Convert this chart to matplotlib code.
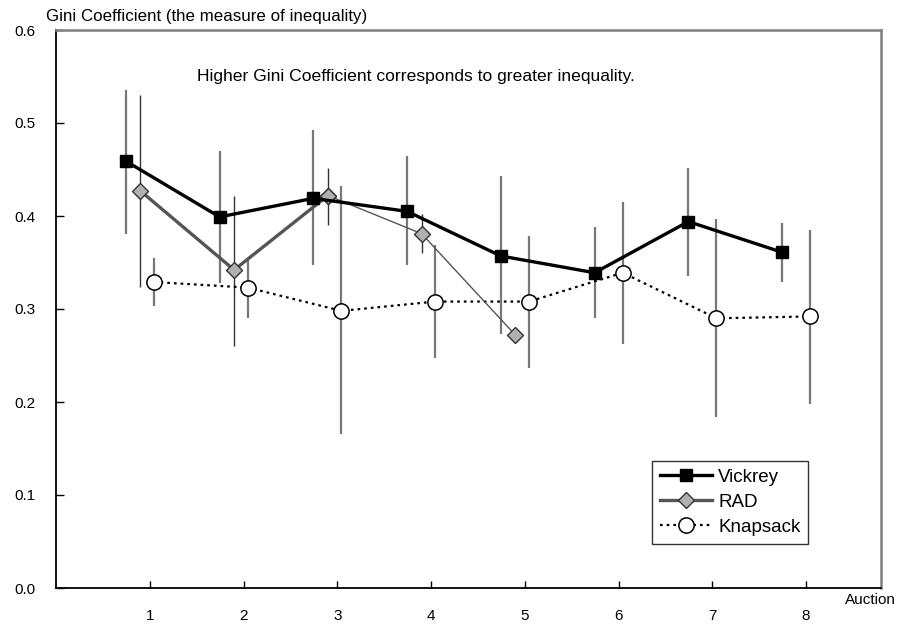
import numpy as np
import matplotlib
matplotlib.use("Agg")
import matplotlib.pyplot as plt
from matplotlib.ticker import FormatStrFormatter

plt.rcParams['font.family'] = ['Liberation Sans', 'DejaVu Sans']

# Auction rounds
auctions = [1, 2, 3, 4, 5, 6, 7, 8]

# Gini coefficient means and error-bar extents per mechanism
vickrey_mean = [0.459, 0.399, 0.419, 0.405, 0.357, 0.339, 0.394, 0.361]
vickrey_low = [0.381, 0.328, 0.347, 0.347, 0.273, 0.290, 0.335, 0.329]
vickrey_high = [0.536, 0.470, 0.492, 0.464, 0.443, 0.388, 0.452, 0.393]

rad_auctions = [1, 2, 3, 4, 5]
rad_mean = [0.427, 0.342, 0.422, 0.381, 0.272]
rad_low = [0.324, 0.260, 0.390, 0.360, 0.272]
rad_high = [0.530, 0.422, 0.452, 0.402, 0.272]

knap_mean = [0.329, 0.323, 0.298, 0.308, 0.308, 0.339, 0.290, 0.292]
knap_low = [0.303, 0.290, 0.166, 0.247, 0.237, 0.262, 0.184, 0.198]
knap_high = [0.355, 0.353, 0.432, 0.369, 0.378, 0.415, 0.397, 0.385]

y_ticks = [0.0, 0.1, 0.2, 0.3, 0.4, 0.5, 0.6]

# horizontal shifts so the three series sit side by side within a round
shift_v, shift_r, shift_k = -0.255, -0.10, 0.045

fig = plt.figure(figsize=(8.97, 6.24), dpi=100)
ax = fig.add_axes([56 / 897, 1 - 588 / 624, (881 - 56) / 897, (588 - 30) / 624])

xv = np.array(auctions) + shift_v
xr = np.array(rad_auctions) + shift_r
xk = np.array(auctions) + shift_k

def yerr(mean, low, high):
    m = np.array(mean)
    return [m - np.array(low), np.array(high) - m]

bar_gray = '#777777'
ax.errorbar(xv, vickrey_mean, yerr=yerr(vickrey_mean, vickrey_low, vickrey_high),
            fmt='none', ecolor=bar_gray, elinewidth=1.6, capsize=0, zorder=1)
ax.errorbar(xk, knap_mean, yerr=yerr(knap_mean, knap_low, knap_high),
            fmt='none', ecolor=bar_gray, elinewidth=1.6, capsize=0, zorder=1)
ax.errorbar(xr, rad_mean, yerr=yerr(rad_mean, rad_low, rad_high),
            fmt='none', ecolor='#333333', elinewidth=1.0, capsize=0, zorder=1)

# Knapsack: dotted line, open circles
ax.plot(xk, knap_mean, linestyle=(0, (1.2, 1.8)), color='black', linewidth=1.6,
        marker='o', markersize=11, markerfacecolor='white', markeredgecolor='black',
        markeredgewidth=1.1, label='Knapsack', zorder=3)

# RAD: heavier segment over the first rounds, lighter afterwards
rad_color = '#555555'
ax.plot(xr[2:], rad_mean[2:], color=rad_color, linewidth=1.0,
        marker='D', markersize=8, markerfacecolor='#b0b0b0',
        markeredgecolor='#333333', markeredgewidth=1.0, zorder=4)
ax.plot(xr[:3], rad_mean[:3], color=rad_color, linewidth=2.4,
        marker='D', markersize=8, markerfacecolor='#b0b0b0',
        markeredgecolor='#333333', markeredgewidth=1.0, label='RAD', zorder=4)

# Vickrey: solid black line, filled squares
ax.plot(xv, vickrey_mean, color='black', linewidth=2.4, marker='s', markersize=9,
        markerfacecolor='black', markeredgecolor='black', label='Vickrey', zorder=5)

ax.set_xlim(0, 8.8)
ax.set_ylim(0, 0.6)
ax.set_xticks(auctions)
ax.set_yticks(y_ticks)
ax.yaxis.set_major_formatter(FormatStrFormatter('%.1f'))

ax.tick_params(axis='x', direction='in', length=5, width=1, pad=15,
               labelsize=11, bottom=True, top=False)
ax.tick_params(axis='y', direction='in', length=6, width=1, pad=15,
               labelsize=11, left=True, right=False)
for lbl in ax.get_xticklabels():
    lbl.set_x(lbl.get_position()[0])

for side in ('left', 'bottom'):
    ax.spines[side].set_color('black')
    ax.spines[side].set_linewidth(1.3)
for side in ('top', 'right'):
    ax.spines[side].set_color('#808080')
    ax.spines[side].set_linewidth(1.8)

fig.text(46 / 897, 1 - 16 / 624, 'Gini Coefficient (the measure of inequality)',
         fontsize=12.2, ha='left', va='center')
fig.text(896 / 897, 1 - 600 / 624, 'Auction', fontsize=11, ha='right', va='center')
fig.text(197 / 897, 1 - 77 / 624,
         'Higher Gini Coefficient corresponds to greater inequality.',
         fontsize=12.6, ha='left', va='center')

handles, labels = ax.get_legend_handles_labels()
order = [labels.index(n) for n in ('Vickrey', 'RAD', 'Knapsack')]
leg = ax.legend([handles[i] for i in order], [labels[i] for i in order],
                loc='upper left', bbox_to_anchor=(652 / 897, 1 - 461 / 624),
                bbox_transform=fig.transFigure, fontsize=13.5, frameon=True,
                fancybox=False, shadow=False, handlelength=2.8, handletextpad=0.3,
                labelspacing=0.42, borderpad=0.42, borderaxespad=0)
leg.get_frame().set_edgecolor('black')
leg.get_frame().set_linewidth(1.0)

fig.savefig('out.png', dpi=100)
